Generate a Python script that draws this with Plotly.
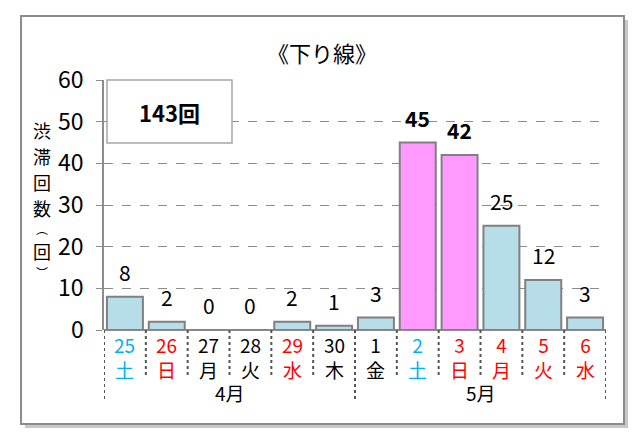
import plotly.graph_objects as go

days = ["25", "26", "27", "28", "29", "30", "1", "2", "3", "4", "5", "6"]
weekdays = ["土", "日", "月", "火", "水", "木", "金", "土", "日", "月", "火", "水"]
values = [8, 2, 0, 0, 2, 1, 3, 45, 42, 25, 12, 3]
months = ["4月", "5月"]
month_spans = [(0, 5), (6, 11)]
label_colors = ["#00B0F0", "#FF0000", "#000000", "#000000", "#FF0000", "#000000",
                "#000000", "#00B0F0", "#FF0000", "#FF0000", "#FF0000", "#FF0000"]
bold_flags = [False, False, False, False, False, False, False, True, True, False, False, False]
bar_colors = ["#B7DEE8"] * 7 + ["#FF99FF", "#FF99FF"] + ["#B7DEE8"] * 3
total_text = "143回"
title_text = "《下り線》"
ytitle_chars = ["渋", "滞", "回", "数", "︵", "回", "︶"]
ytitle_pos = [130, 156, 182, 208, 228, 251, 272]  # page pixel centres of the vertical title glyphs
ytitle_size = [18, 18, 18, 18, 12, 18, 12]

FONT = "Noto Sans CJK JP"
W, H = 640, 441
OFF = 8  # page body margin
# plot area in page pixels
PL, PR, PT, PB = 104, 606, 80, 330
L = PL - OFF
T = PT - OFF
R = W - (PR - OFF)
B = H - (PB - OFF)
PW = PR - PL
PH = PB - PT

def px_x(p):
    return (p - PL) / PW

def px_y(p):
    return (PB - p) / PH

x = list(range(len(values)))

fig = go.Figure()
fig.add_trace(go.Bar(
    x=x, y=values,
    marker=dict(color=bar_colors, line=dict(color="#808080", width=2)),
    width=0.86, hoverinfo="skip",
))

# outer frame with shadow
fig.add_shape(type="rect", xref="paper", yref="paper",
              x0=px_x(25), x1=px_x(628), y0=px_y(428), y1=px_y(20),
              line=dict(color="rgba(0,0,0,0)", width=0), fillcolor="#C8C8C8", layer="below")
fig.add_shape(type="rect", xref="paper", yref="paper",
              x0=px_x(21), x1=px_x(624), y0=px_y(424), y1=px_y(16),
              line=dict(color="#8C8C8C", width=2), fillcolor="white", layer="below")

annotations = []
# data labels
for i, v in enumerate(values):
    txt = f"<b>{v}</b>" if bold_flags[i] else str(v)
    annotations.append(dict(x=i, y=v, xref="x", yref="y", text=txt, showarrow=False,
                            xanchor="center", yanchor="middle", yshift=25,
                            font=dict(family=FONT, size=21, color="#000000")))

# category labels (day number over weekday)
for i in range(len(days)):
    annotations.append(dict(x=i, y=px_y(357), xref="x", yref="paper",
                            text=f"{days[i]}<br>{weekdays[i]}",
                            showarrow=False, xanchor="center", yanchor="middle", borderpad=0,
                            font=dict(family=FONT, size=19, color=label_colors[i])))

for m, (a, b) in zip(months, month_spans):
    annotations.append(dict(x=(a + b) / 2, y=px_y(392), xref="x", yref="paper", text=m,
                            showarrow=False, xanchor="center", yanchor="middle", borderpad=0,
                            font=dict(family=FONT, size=19, color="#000000")))

# separators
for k in range(len(values) + 1):
    xs = k - 0.5
    long = k in (0, 6, 12)
    fig.add_shape(type="line", xref="x", yref="paper", x0=xs, x1=xs,
                  y0=0, y1=px_y(402 if long else 378),
                  line=dict(color="#555555", width=2, dash="dot"))

# total box
fig.add_shape(type="rect", xref="paper", yref="paper",
              x0=px_x(107), x1=px_x(232), y0=px_y(143), y1=px_y(80),
              line=dict(color="#A6A6A6", width=1.5), fillcolor="white")
annotations.append(dict(x=px_x(169), y=px_y(112), xref="paper", yref="paper",
                        text=f"<b>{total_text}</b>", showarrow=False,
                        xanchor="center", yanchor="middle",
                        font=dict(family=FONT, size=22, color="#000000")))

# title
annotations.append(dict(x=px_x(322), y=px_y(52), xref="paper", yref="paper",
                        text=title_text, showarrow=False, xanchor="center", yanchor="middle",
                        font=dict(family=FONT, size=22, color="#000000")))

# y axis title (vertical, one glyph per line)
for ch, yp, fs in zip(ytitle_chars, ytitle_pos, ytitle_size):
    annotations.append(dict(x=px_x(42), y=px_y(yp), xref="paper", yref="paper",
                            text=ch, showarrow=False, xanchor="center", yanchor="middle",
                            borderpad=0,
                            font=dict(family=FONT, size=fs, color="#000000")))

fig.update_layout(
    width=W, height=H,
    margin=dict(l=L, r=R, t=T, b=B, pad=0),
    paper_bgcolor="white", plot_bgcolor="white",
    showlegend=False, bargap=0.14,
    annotations=annotations,
    xaxis=dict(range=[-0.5, len(values) - 0.5], showticklabels=False, ticks="",
               showgrid=False, zeroline=False, showline=False, fixedrange=True),
    yaxis=dict(range=[0, 60], dtick=10, showgrid=True, gridcolor="#8C8C8C",
               griddash="dash", gridwidth=1, zeroline=True, zerolinecolor="#8C8C8C",
               zerolinewidth=2, showline=True, linecolor="#8C8C8C", linewidth=1.5,
               ticks="outside", ticklen=6, tickcolor="#8C8C8C", ticklabelstandoff=8,
               tickfont=dict(family=FONT, size=23, color="#000000"), fixedrange=True),
)

fig.write_html("out.html")
